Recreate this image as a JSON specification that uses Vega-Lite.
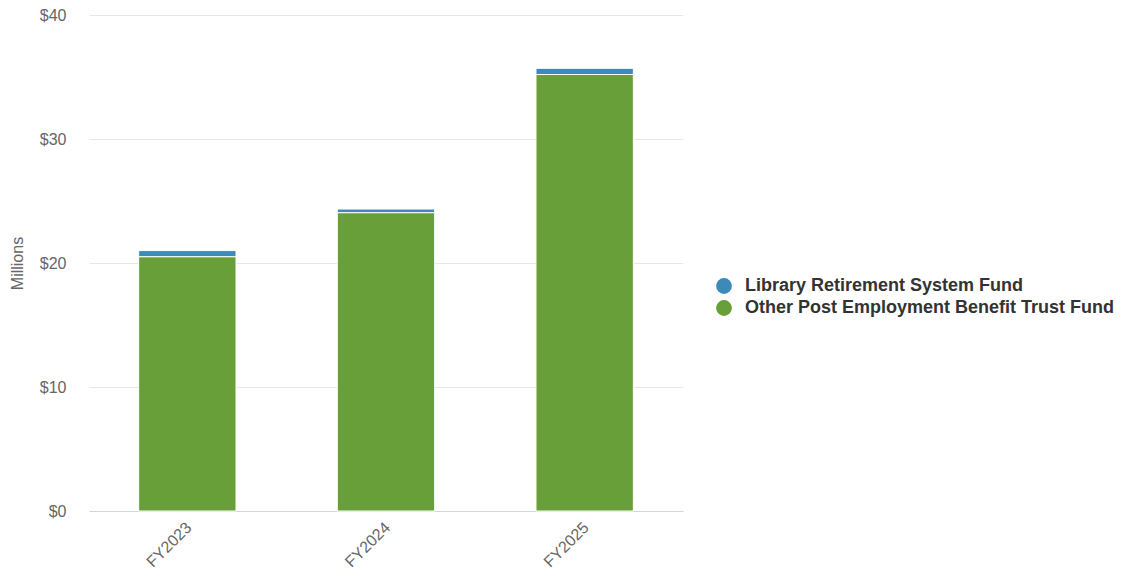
{
  "$schema": "https://vega.github.io/schema/vega-lite/v6.json",
  "width": 594,
  "height": 496,
  "autosize": {"type": "none"},
  "padding": {"left": 89, "top": 15, "right": 440, "bottom": 67},
  "config": {
    "font": "Liberation Sans",
    "view": {"stroke": null}
  },
  "data": {
    "values": [
      {"year": "FY2023", "series": "Library Retirement System Fund", "value": 0.5},
      {"year": "FY2023", "series": "Other Post Employment Benefit Trust Fund", "value": 20.5},
      {"year": "FY2024", "series": "Library Retirement System Fund", "value": 0.3},
      {"year": "FY2024", "series": "Other Post Employment Benefit Trust Fund", "value": 24.05},
      {"year": "FY2025", "series": "Library Retirement System Fund", "value": 0.5},
      {"year": "FY2025", "series": "Other Post Employment Benefit Trust Fund", "value": 35.2}
    ]
  },
  "mark": {"type": "bar", "stroke": "#ffffff", "strokeWidth": 1},
  "encoding": {
    "x": {
      "field": "year",
      "type": "nominal",
      "scale": {"paddingInner": 0.51, "paddingOuter": 0.25},
      "axis": {
        "title": null,
        "labelAngle": -45,
        "labelFontSize": 16,
        "labelColor": "#666666",
        "ticks": false,
        "labelPadding": 8,
        "labelOffset": -4,
        "domainColor": "#ccd6eb",
        "domainWidth": 1,
        "grid": false
      }
    },
    "y": {
      "field": "value",
      "type": "quantitative",
      "aggregate": "sum",
      "stack": "zero",
      "scale": {"domain": [0, 40], "nice": false},
      "axis": {
        "title": "Millions",
        "titleFontSize": 16,
        "titleFontWeight": "normal",
        "titleColor": "#666666",
        "titlePadding": 14,
        "values": [0, 10, 20, 30, 40],
        "labelExpr": "'$' + datum.value",
        "labelFontSize": 16,
        "labelColor": "#666666",
        "labelPadding": 23,
        "ticks": false,
        "domain": false,
        "gridColor": "#e6e6e6",
        "gridWidth": 1
      }
    },
    "color": {
      "field": "series",
      "type": "nominal",
      "scale": {
        "domain": ["Library Retirement System Fund", "Other Post Employment Benefit Trust Fund"],
        "range": ["#3d8ab9", "#689f38"]
      },
      "legend": {
        "title": null,
        "orient": "none",
        "legendX": 626,
        "legendY": 262,
        "padding": 0,
        "symbolType": "circle",
        "symbolSize": 250,
        "symbolStrokeWidth": 0,
        "labelFontSize": 18,
        "labelFontWeight": "bold",
        "labelColor": "#333333",
        "labelOffset": 12,
        "rowPadding": 4,
        "labelLimit": 500
      }
    },
    "order": {"field": "series", "sort": "descending"}
  }
}
